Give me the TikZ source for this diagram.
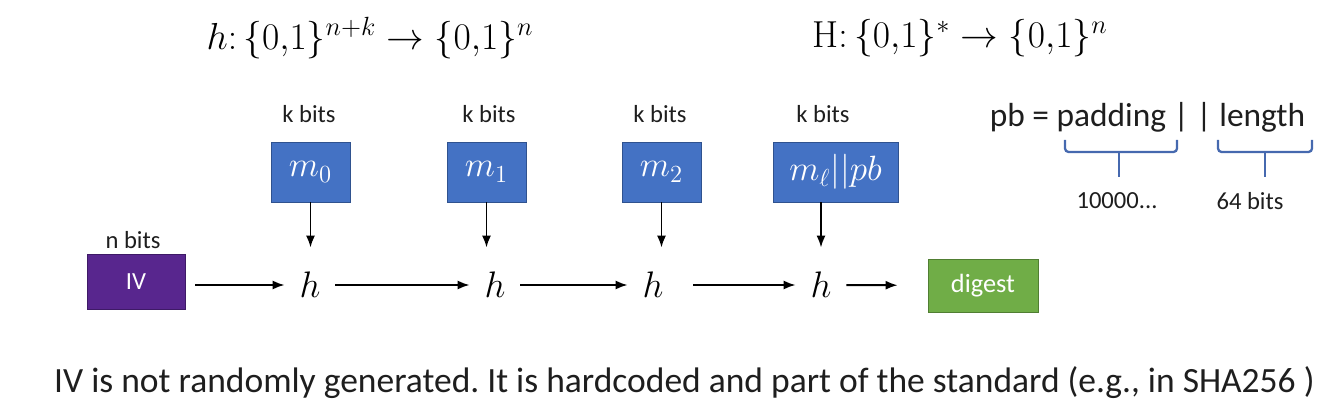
\RequirePackage{fix-cm}
\documentclass[tikz,border=0pt]{standalone}
\usepackage{fontspec}
\newfontfamily\calibri{Carlito}
\usetikzlibrary{positioning,arrows.meta,calc}
\definecolor{msgblue}{RGB}{68,114,196}
\definecolor{msgedge}{RGB}{47,82,143}
\definecolor{ivpurple}{RGB}{88,38,142}
\definecolor{ivedge}{RGB}{62,26,102}
\definecolor{dgreen}{RGB}{112,173,71}
\definecolor{dedge}{RGB}{80,126,50}
\definecolor{bracecol}{RGB}{70,105,175}
\definecolor{txt}{RGB}{30,30,30}

\begin{document}
\begin{tikzpicture}[>={Latex[length=2.4mm,width=1.8mm]},
  lbl/.style={font=\calibri\fontsize{14}{16}\selectfont,text=txt},
  msg/.style={draw=msgedge,fill=msgblue,text=white,minimum height=1.2cm,minimum width=1.58cm,inner sep=0pt,font=\fontsize{20}{24}\selectfont},
  hnode/.style={minimum width=1cm,minimum height=1.48cm,inner sep=0pt,font=\fontsize{21}{24}\selectfont},
  flow/.style={->,line width=1.1pt}]
  \useasboundingbox (0,0) rectangle (26.68,8.06);
  % signatures
  \node (sigh) at (7.4,7.30) {\fontsize{21.4}{25}\selectfont $h\colon\{0{,}1\}^{n+k}\rightarrow\{0{,}1\}^{n}$};
  \node (sigH) at (19.2,7.30) {\fontsize{21.4}{25}\selectfont $\mathrm{H}\colon\{0{,}1\}^{*}\rightarrow\{0{,}1\}^{n}$};
  % message blocks
  \node[lbl] (k0) at (6.18,5.78) {k bits};
  \node[lbl] (k1) at (9.78,5.78) {k bits};
  \node[lbl] (k2) at (13.2,5.78) {k bits};
  \node[lbl] (kl) at (16.46,5.78) {k bits};
  \node[msg] (m0) at (6.21,4.62) {$m_0$};
  \node[msg] (m1) at (9.73,4.62) {$m_1$};
  \node[msg] (m2) at (13.23,4.62) {$m_2$};
  \node[msg,minimum width=2.5cm] (ml) at (16.71,4.62) {$m_\ell||pb$};
  % chain
  \node[lbl] (nb) at (2.66,3.26) {n bits};
  \node[draw=ivedge,fill=ivpurple,text=white,minimum width=1.96cm,minimum height=1.1cm,font=\calibri\fontsize{14}{16}\selectfont] (iv) at (2.72,2.42) {IV};
  \node[hnode] (h1) at (6.2,2.36) {$h$};
  \node[hnode] (h2) at (9.9,2.36) {$h$};
  \node[hnode] (h3) at (13.06,2.36) {$h$};
  \node[hnode] (h4) at (16.42,2.36) {$h$};
  \node[draw=dedge,fill=dgreen,text=white,minimum width=2.2cm,minimum height=1.06cm,font=\calibri\fontsize{15}{18}\selectfont] (dg) at (19.66,2.35) {digest};
  \draw[flow,shorten <=0.2cm] (h1.west -| iv.east) -- (h1.west);
  \draw[flow] (h1) -- (h2);
  \draw[flow] (h2) -- (h3);
  \draw[flow,shorten <=0.3cm] (h3) -- (h4);
  \draw[flow,shorten >=0.6cm] (h4) -- (dg);
  \foreach \m/\h in {m0/h1,m1/h2,m2/h3} {\draw[flow] (\m.south) -- (\m.south |- \h.north);}
  \draw[flow] (ml.south -| h4) -- (h4.north);
  % padding block
  \node[font=\calibri\fontsize{19}{22}\selectfont,text=txt] (pb) at (22.95,5.72) {pb = padding | | length};
  \draw[bracecol,line width=1.3pt,rounded corners=2pt] (21.3,5.26) -- (21.3,5.02) -- (23.54,5.02) -- (23.54,5.26);
  \draw[bracecol,line width=1.3pt] (22.38,5.02) -- (22.38,4.52);
  \draw[bracecol,line width=1.3pt,rounded corners=2pt] (24.36,5.26) -- (24.36,5.02) -- (26.24,5.02) -- (26.24,5.26);
  \draw[bracecol,line width=1.3pt] (25.3,5.02) -- (25.3,4.52);
  \node[lbl] (pad) at (22.34,4.04) {10000...};
  \node[lbl] (len) at (25.0,4.04) {64 bits};
  % note
  \node[anchor=west,font=\calibri\fontsize{20.2}{24}\selectfont\frenchspacing,text=txt] (note) at (0.96,0.40) {IV is not randomly generated. It is hardcoded and part of the standard (e.g., in SHA256 )};
\end{tikzpicture}
\end{document}
